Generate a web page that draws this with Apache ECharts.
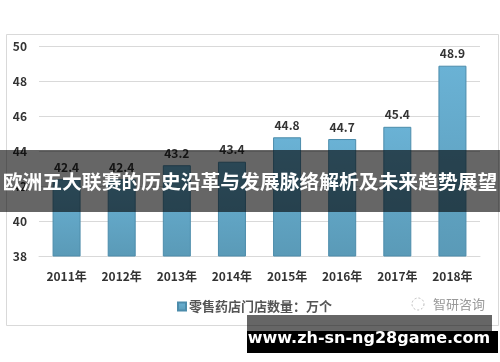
<!DOCTYPE html>
<html><head><meta charset="utf-8">
<script src="https://cdn.jsdelivr.net/npm/echarts@6/dist/echarts.min.js"></script>
<style>html,body{margin:0;padding:0;background:#fff}#c{width:500px;height:362px}</style>
</head><body><div id="c"></div>
<script>
const categories = ['2011年','2012年','2013年','2014年','2015年','2016年','2017年','2018年'];
const storeCounts = [42.4, 42.4, 43.2, 43.4, 44.8, 44.7, 45.4, 48.9];
const seriesName = '零售药店门店数量：万个';
const bannerText = '欧洲五大联赛的历史沿革与发展脉络解析及未来趋势展望';
const watermarkText = 'www.zh-sn-ng28game.com';
const logoText = '智研咨询';

const FONT = '"Noto Sans CJK SC", "Noto Sans", sans-serif';
const chart = echarts.init(document.getElementById('c'));
chart.setOption({
  animation: false,
  backgroundColor: '#fff',
  grid: {left: 39, right: 20, top: 46.5, bottom: 106, containLabel: false},
  xAxis: {
    type: 'category', data: categories,
    axisLine: {show: true, lineStyle: {color: '#d9d9d9'}},
    axisTick: {show: false},
    axisLabel: {color: '#333', fontWeight: 'bold', fontSize: 12, fontFamily: FONT, margin: 14, interval: 0}
  },
  yAxis: {
    type: 'value', min: 38, max: 50, interval: 2,
    axisLine: {show: false}, axisTick: {show: false},
    splitLine: {lineStyle: {color: '#d9d9d9', width: 1}},
    axisLabel: {color: '#333', fontWeight: 'bold', fontSize: 12, fontFamily: FONT, margin: 12}
  },
  legend: {
    data: [seriesName], left: 172, top: 295, itemWidth: 8, itemHeight: 8, itemGap: 4,
    icon: 'rect',
    textStyle: {color: '#555', fontWeight: 'bold', fontSize: 13, fontFamily: FONT, padding: [0,0,0,-2]}
  },
  series: [{
    name: seriesName, type: 'bar', data: storeCounts, barWidth: 28,
    itemStyle: {
      color: new echarts.graphic.LinearGradient(0,0,0,1,[{offset:0,color:'#6ab2d5'},{offset:1,color:'#5a9ab7'}]),
      borderColor: '#4c8cab', borderWidth: 1
    },
    label: {show: true, position: 'top', distance: 6, color: '#333', fontWeight: 'bold', fontSize: 12, fontFamily: FONT}
  }],
  graphic: [
    {type: 'rect', left: 4, top: 32, shape: {width: 492, height: 291}, style: {fill: 'none', stroke: '#d9d9d9', lineWidth: 1}, z: -1},
    {type: 'circle', shape: {cx: 418, cy: 304, r: 6}, style: {fill: 'none', stroke: '#bbb', lineWidth: 1, lineDash: [2,2]}, z: 5},
    {type: 'text', x: 433, y: 304, style: {text: logoText, fill: '#999', font: '13px ' + FONT, textVerticalAlign: 'middle'}, z: 5},
    {type: 'rect', shape: {x: 0, y: 150, width: 500, height: 62}, style: {fill: 'rgba(0,0,0,0.6)'}, z: 100},
    {type: 'text', x: 250, y: 181, style: {text: bannerText, fill: '#fff', font: 'bold 19.8px ' + FONT, textAlign: 'center', textVerticalAlign: 'middle'}, z: 101},
    {type: 'rect', shape: {x: 247, y: 315, width: 245, height: 16}, style: {fill: 'rgba(0,0,0,0.6)'}, z: 100},
    {type: 'rect', shape: {x: 247, y: 331, width: 251, height: 22}, style: {fill: '#000'}, z: 100},
    {type: 'text', x: 369, y: 339, style: {text: watermarkText, fill: '#fff', font: 'bold 16px "DejaVu Sans", sans-serif', textAlign: 'center', textVerticalAlign: 'middle'}, z: 101}
  ]
});
</script></body></html>
